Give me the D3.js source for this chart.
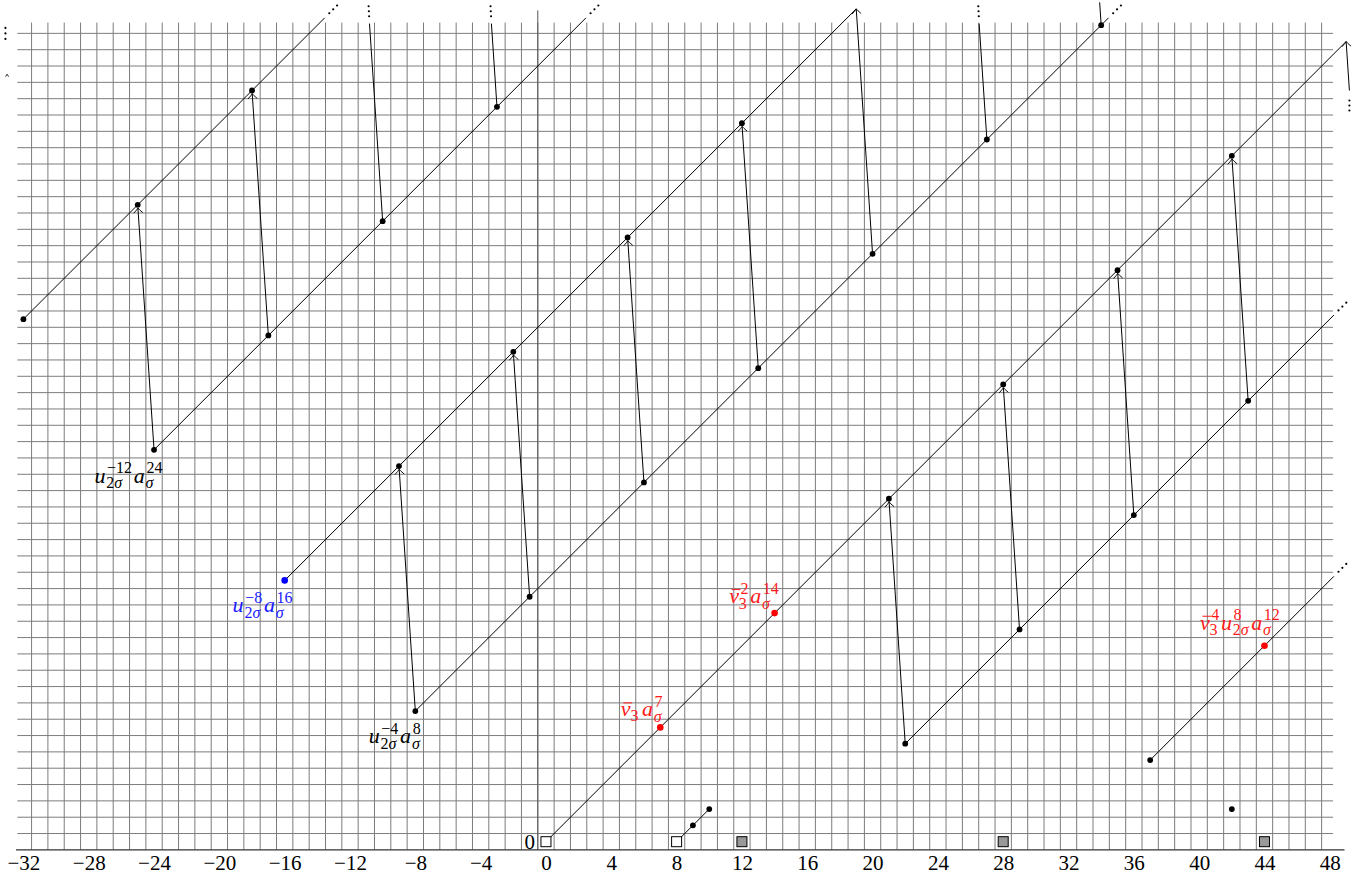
<!DOCTYPE html>
<html>
<head>
<meta charset="utf-8">
<script src="https://cdn.jsdelivr.net/npm/d3@7"></script>
<style>
  html, body { margin: 0; padding: 0; background: #fff; }
  svg { display: block; }
  text { font-family: "Liberation Serif", "DejaVu Serif", serif; }
</style>
</head>
<body>
<svg id="chart" width="1371" height="880"></svg>
<script>
// ---------------- DATA ----------------
const xTicks = [-32, -28, -24, -20, -16, -12, -8, -4, 0, 4, 8, 12, 16, 20, 24, 28, 32, 36, 40, 44, 48];
const yTickLabels = [0];

// tower lines (slope 1); end given only if the tower stops inside the chart
const towers = [
  { start: [-32, 32] },
  { start: [-24, 24] },
  { start: [-16, 16], end: [19, 51] },
  { start: [-8, 8] },
  { start: [0, 0], end: [49, 49] },
  { start: [22, 6] },
  { start: [37, 5] },
  { start: [8, 0], end: [10, 2] }
];

// differentials: [source, target]
const differentials = [
  [[-24, 24], [-25, 39]],
  [[-17, 31], [-18, 46]],
  [[-10, 38], [-11, 53]],
  [[-3, 45], [-4, 60]],
  [[-8, 8], [-9, 23]],
  [[-1, 15], [-2, 30]],
  [[6, 22], [5, 37]],
  [[13, 29], [12, 44]],
  [[20, 36], [19, 51]],
  [[27, 43], [26, 58]],
  [[34, 50], [33, 65]],
  [[22, 6], [21, 21]],
  [[29, 13], [28, 28]],
  [[36, 20], [35, 35]],
  [[43, 27], [42, 42]],
  [[50, 34], [49, 49]]
];

const blackPoints = [
  [-32, 32], [-25, 39], [-18, 46],
  [-24, 24], [-17, 31], [-10, 38], [-3, 45],
  [-9, 23], [-2, 30], [5, 37], [12, 44],
  [-8, 8], [-1, 15], [6, 22], [13, 29], [20, 36], [27, 43], [34, 50],
  [21, 21], [28, 28], [35, 35], [42, 42],
  [22, 6], [29, 13], [36, 20], [43, 27],
  [37, 5], [9, 1], [10, 2], [42, 2]
];
const redPoints = [[7, 7], [14, 14], [44, 12]];
const bluePoints = [[-16, 16]];
const whiteBoxes = [[0, 0], [8, 0]];
const grayBoxes = [[12, 0], [28, 0], [44, 0]];

// clipped-differential fragments at the left edge
const edgeEllipses = [[-33.1, 49.1]];
const edgeArrowTips = [[-33, 47]];

// labels: parts of a monomial
const labels = [
  { at: [-24, 24], color: "#000", parts: [{ b: "u", sup: "−12", sub: "2σ" }, { b: "a", sup: "24", sub: "σ" }] },
  { at: [-16, 16], color: "#1a1aff", parts: [{ b: "u", sup: "−8", sub: "2σ" }, { b: "a", sup: "16", sub: "σ" }] },
  { at: [-8, 8], color: "#000", parts: [{ b: "u", sup: "−4", sub: "2σ" }, { b: "a", sup: "8", sub: "σ" }] },
  { at: [7, 7], color: "#ff1a1a", parts: [{ b: "v", bar: true, sub: "3" }, { b: "a", sup: "7", sub: "σ" }] },
  { at: [14, 14], color: "#ff1a1a", parts: [{ b: "v", bar: true, sup: "2", sub: "3" }, { b: "a", sup: "14", sub: "σ" }] },
  { at: [44, 12], color: "#ff1a1a", parts: [{ b: "v", bar: true, sup: "4", sub: "3" }, { b: "u", sup: "8", sub: "2σ" }, { b: "a", sup: "12", sub: "σ" }] }
];
// label placement (pixel offsets of label centre / baseline from its point)
const labelPlacement = [
  { dx: -26, dy: 33 },
  { dx: -22.5, dy: 32 },
  { dx: -21, dy: 32 },
  { dx: -19, dy: -11 },
  { dx: -21, dy: -10 },
  { dx: -25, dy: -16 }
];

// chart bounds
const towerXMax = 48.25, towerYMax = 50.45;
const diffYClip = 50.1, diffYLimit = 52, diffXClip = 49.2;

// ---------------- SCALES ----------------
const svg = d3.select("#chart");
const x = d3.scaleLinear().domain([-32, 48]).range([23.4, 1329.8]);
const y = d3.scaleLinear().domain([0, 50]).range([841.7, 25.2]);

// ---------------- GRID ----------------
const grid = svg.append("g").attr("stroke", "#7c7c7c").attr("stroke-width", 1);
const vLines = d3.range(-31.5, 48, 1);
const hLines = d3.range(0.5, 50, 1);
grid.selectAll("line.v").data(vLines).join("line")
  .attr("x1", d => x(d)).attr("x2", d => x(d))
  .attr("y1", y(-0.5)).attr("y2", y(50.16));
grid.selectAll("line.h").data(hLines).join("line")
  .attr("x1", x(-32.37)).attr("x2", x(48.2))
  .attr("y1", d => y(d)).attr("y2", d => y(d));

// axes lines
svg.append("line").attr("x1", x(-0.5)).attr("x2", x(-0.5))
  .attr("y1", y(-0.5)).attr("y2", y(50.9))
  .attr("stroke", "#555").attr("stroke-width", 1);
svg.append("line").attr("x1", x(-32.45)).attr("x2", x(48.9))
  .attr("y1", y(-0.5)).attr("y2", y(-0.5))
  .attr("stroke", "#333").attr("stroke-width", 1.3);

// x axis tick labels
const xAxis = d3.axisBottom(x).tickValues(xTicks).tickSize(0)
  .tickFormat(d => (d < 0 ? "−" + Math.abs(d) : String(d)));
const gx = svg.append("g").attr("transform", `translate(0,${y(-0.5)})`).call(xAxis);
gx.select(".domain").remove();
gx.selectAll("text").attr("y", 0).attr("dy", 0)
  .attr("transform", `translate(0,${870 - y(-0.5)})`)
  .attr("font-size", 21).attr("fill", "#000")
  .attr("font-family", "Liberation Serif, DejaVu Serif, serif");

// y label "0"
svg.selectAll("text.ylab").data(yTickLabels).join("text")
  .attr("class", "ylab")
  .attr("x", x(-1)).attr("y", d => y(d) + 7.5)
  .attr("text-anchor", "middle").attr("font-size", 21).text(d => d);

// ---------------- MARKS ----------------
const defs = svg.append("defs");
defs.append("marker").attr("id", "tip")
  .attr("viewBox", "-8 -6 10 12").attr("refX", 0).attr("refY", 0)
  .attr("markerWidth", 10).attr("markerHeight", 12)
  .attr("markerUnits", "userSpaceOnUse").attr("orient", "auto")
  .append("path").attr("d", "M -5,-4.6 Q -1.6,-1 0,0 Q -1.6,1 -5,4.6")
  .attr("fill", "none").attr("stroke", "#000").attr("stroke-width", 0.9);

const lines = svg.append("g").attr("stroke", "#000").attr("stroke-width", 1).attr("fill", "none");
const dotsG = svg.append("g").attr("fill", "#000");

function ellipsis(p0, dir, dists) {
  dists.forEach(d => dotsG.append("circle")
    .attr("cx", p0[0] + dir[0] * d).attr("cy", p0[1] + dir[1] * d).attr("r", 1.1));
}

// towers
towers.forEach(t => {
  const [sx, sy] = t.start;
  let ex, ey, more = false;
  if (t.end) { [ex, ey] = t.end; }
  else {
    const k = Math.min(towerXMax - sx, towerYMax - sy);
    ex = sx + k; ey = sy + k; more = true;
  }
  lines.append("line").attr("x1", x(sx)).attr("y1", y(sy)).attr("x2", x(ex)).attr("y2", y(ey));
  if (more) ellipsis([x(ex), y(ey)], [Math.SQRT1_2, -Math.SQRT1_2], [6.5, 12, 17.5]);
});

// set of drawn nodes
const nodeKey = p => p[0] + "," + p[1];
const nodes = new Set([...blackPoints, ...redPoints, ...bluePoints].map(nodeKey));

// differentials
differentials.forEach(([s, t]) => {
  const [sx, sy] = s, [tx, ty] = t;
  const dxu = tx - sx, dyu = ty - sy;
  let a0 = 0, a1 = 1;
  let topClip = false, rightClip = false;
  if (ty > diffYLimit) {
    const yEnd = Math.max(diffYClip, sy + 1.4);
    a1 = (yEnd - sy) / dyu; topClip = true;
  }
  if (sx > diffXClip) { a0 = (diffXClip - sx) / dxu; rightClip = true; }
  let p0 = [x(sx + a0 * dxu), y(sy + a0 * dyu)];
  let p1 = [x(sx + a1 * dxu), y(sy + a1 * dyu)];
  const el = lines.append("line").attr("x1", p0[0]).attr("y1", p0[1]);
  if (!topClip) {
    if (nodes.has(nodeKey(t))) {
      const L = Math.hypot(p1[0] - p0[0], p1[1] - p0[1]);
      const r = 3.2;
      p1 = [p1[0] - (p1[0] - p0[0]) / L * r, p1[1] - (p1[1] - p0[1]) / L * r];
    }
    el.attr("marker-end", "url(#tip)");
  }
  el.attr("x2", p1[0]).attr("y2", p1[1]);
  if (topClip && p1[1] - 18 > 0) ellipsis(p1, [-0.05, -1], [7.3, 12.3, 17.3]);
  if (rightClip) ellipsis(p0, [0, 1], [10, 15, 20]);
});

// edge fragments
edgeEllipses.forEach(p => ellipsis([x(p[0]), y(p[1]) - 12], [0, 1], [0, 5.5, 11]));
edgeArrowTips.forEach(p => lines.append("path")
  .attr("d", `M ${x(p[0]) - 1.5},${y(p[1]) + 2.5} L ${x(p[0])},${y(p[1])} L ${x(p[0]) + 1.5},${y(p[1]) + 2.5}`)
  .attr("stroke-width", 0.8));

// boxes
const bs = 10;
svg.selectAll("rect.wb").data(whiteBoxes).join("rect")
  .attr("x", d => x(d[0]) - bs / 2).attr("y", d => y(d[1]) - bs / 2)
  .attr("width", bs).attr("height", bs)
  .attr("fill", "#fff").attr("stroke", "#000").attr("stroke-width", 1);
svg.selectAll("rect.gb").data(grayBoxes).join("rect")
  .attr("x", d => x(d[0]) - bs / 2).attr("y", d => y(d[1]) - bs / 2)
  .attr("width", bs).attr("height", bs)
  .attr("fill", "#999").attr("stroke", "#000").attr("stroke-width", 1);

// points
svg.append("g").selectAll("circle").data(blackPoints).join("circle")
  .attr("cx", d => x(d[0])).attr("cy", d => y(d[1])).attr("r", 2.9).attr("fill", "#000");
svg.append("g").selectAll("circle").data(redPoints).join("circle")
  .attr("cx", d => x(d[0])).attr("cy", d => y(d[1])).attr("r", 3.3).attr("fill", "#ff0000");
svg.append("g").selectAll("circle").data(bluePoints).join("circle")
  .attr("cx", d => x(d[0])).attr("cy", d => y(d[1])).attr("r", 3.3).attr("fill", "#0000ff");

// ---------------- LABELS ----------------
const BASE = 22, SMALL = 16;
function addScript(g, str, xPos, yPos, color) {
  const t = g.append("text").attr("x", xPos).attr("y", yPos)
    .attr("font-size", SMALL).attr("fill", color);
  // letters italic, digits/minus upright
  const re = /([0-9−]+)|([^0-9−]+)/g;
  let m;
  while ((m = re.exec(str)) !== null) {
    const ts = t.append("tspan").text(m[0]);
    if (m[2]) ts.attr("font-style", "italic");
  }
  return t.node().getComputedTextLength();
}
labels.forEach((lab, i) => {
  const pl = labelPlacement[i];
  const g = svg.append("g");
  let cx = 0;
  lab.parts.forEach(p => {
    const bt = g.append("text").attr("x", cx).attr("y", 0)
      .attr("font-size", BASE).attr("font-style", "italic").attr("fill", lab.color).text(p.b);
    const w = bt.node().getComputedTextLength();
    if (p.bar) {
      g.append("line").attr("x1", cx + 2.5).attr("x2", cx + w + 1.5)
        .attr("y1", -13.5).attr("y2", -13.5).attr("stroke", lab.color).attr("stroke-width", 1);
    }
    cx += w + 0.8;
    let wsup = 0, wsub = 0;
    const both = p.sup && p.sub;
    if (p.sup) wsup = addScript(g, p.sup, cx + 0.8, -9.5, lab.color);
    if (p.sub) wsub = addScript(g, p.sub, cx - (p.b === "v" ? 1 : 0), both ? 5.5 : 4.5, lab.color);
    cx += Math.max(wsup, wsub) + 2.5;
  });
  const W = cx - 2.5;
  const px = x(lab.at[0]) + pl.dx - W / 2;
  const py = y(lab.at[1]) + pl.dy;
  g.attr("transform", `translate(${px},${py})`);
});
</script>
</body>
</html>
